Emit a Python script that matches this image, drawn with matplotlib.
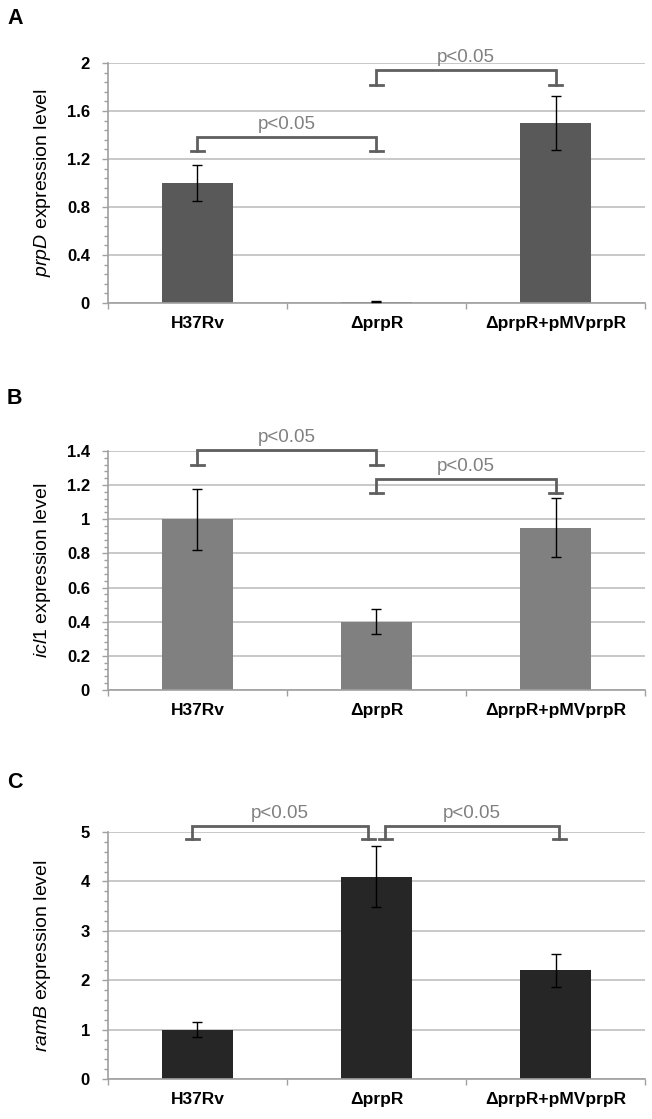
import matplotlib
matplotlib.use("Agg")
import matplotlib.pyplot as plt
from matplotlib.ticker import MultipleLocator, FuncFormatter

plt.rcParams['font.family'] = ['Liberation Sans', 'DejaVu Sans']
plt.rcParams['mathtext.fontset'] = 'custom'
plt.rcParams['mathtext.rm'] = 'Liberation Sans'
plt.rcParams['mathtext.it'] = 'Liberation Sans:italic'

strains = ["H37Rv", "\u0394prpR", "\u0394prpR+pMVprpR"]

prpD_mean = [1.0, 0.01, 1.5]
prpD_err = [0.15, 0.004, 0.225]
icl1_mean = [1.0, 0.40, 0.95]
icl1_err = [0.18, 0.072, 0.172]
ramB_mean = [1.0, 4.1, 2.2]
ramB_err = [0.15, 0.62, 0.33]

# brackets: (x start, x end, top, cap level)
prpD_brackets = [(0, 1, 1.386, 1.267), (1, 2, 1.94, 1.82)]
icl1_brackets = [(0, 1, 1.404, 1.32), (1, 2, 1.236, 1.154)]
ramB_brackets = [(-0.03, 0.955, 5.12, 4.87), (1.05, 2.02, 5.12, 4.87)]

panels = [
    ("A", "prpD", prpD_mean, prpD_err, prpD_brackets, "#595959", 2.0, 0.4, 0.08,
     [0.1656, 0.7292, 0.8237, 0.2145], 19),
    ("B", "icl1", icl1_mean, icl1_err, icl1_brackets, "#808080", 1.4, 0.2, 0.04,
     [0.1656, 0.3834, 0.8237, 0.2136], 398),
    ("C", "ramB", ramB_mean, ramB_err, ramB_brackets, "#262626", 5.0, 1.0, 0.2,
     [0.1656, 0.0357, 0.8237, 0.2207], 783),
]

fig = plt.figure(figsize=(6.52, 11.19), dpi=100)

for letter, gene, means, errs, brackets, color, ymax, major, minor, rect, ly in panels:
    ax = fig.add_axes(rect)
    x = list(range(len(strains)))
    ax.bar(x, means, width=0.4, color=color, zorder=2)
    ax.errorbar(x, means, yerr=errs, fmt='none', ecolor='black', elinewidth=1,
                capsize=3.3, capthick=1, zorder=3)

    ax.set_xlim(-0.5, 2.5)
    ax.set_ylim(0, ymax)
    ax.yaxis.set_major_locator(MultipleLocator(major))
    ax.yaxis.set_minor_locator(MultipleLocator(minor))
    ax.yaxis.set_major_formatter(FuncFormatter(lambda v, p: "%g" % round(v, 2)))
    ax.grid(axis='y', color='#bfbfbf', linewidth=1.2, zorder=0)
    ax.set_axisbelow(True)

    ax.set_xticks(x)
    ax.set_xticklabels(strains, fontweight='bold', fontsize=12.5)
    ax.set_xticks([-0.5, 0.5, 1.5, 2.5], minor=True)
    ax.tick_params(axis='x', which='major', length=0, pad=9.5)
    ax.tick_params(axis='x', which='minor', length=4, color='#a0a0a0', width=1)
    ax.tick_params(axis='y', which='major', length=4, color='#a0a0a0', width=1,
                   pad=9, labelsize=12)
    ax.tick_params(axis='y', which='minor', length=3.2, color='#a0a0a0', width=1)
    for lab in ax.get_yticklabels():
        lab.set_fontweight('bold')

    for s in ['top', 'right']:
        ax.spines[s].set_visible(False)
    for s in ['left', 'bottom']:
        ax.spines[s].set_color('#a0a0a0')
        ax.spines[s].set_linewidth(1.2)

    ax.set_ylabel(r"$\mathit{%s}$ expression level" % gene, fontsize=14)
    ax.yaxis.set_label_coords(-0.102, 0.5)

    cw = 0.036
    for x0, x1, top, cap in brackets:
        ax.plot([x0, x0, x1, x1], [cap, top, top, cap], color='#5f5f5f', lw=2,
                clip_on=False, zorder=4, solid_joinstyle='miter')
        for xc in (x0, x1):
            ax.plot([xc - cw, xc + cw], [cap, cap], color='#5f5f5f', lw=2,
                    clip_on=False, zorder=4)
        ax.annotate("p<0.05", xy=((x0 + x1) / 2, top), xytext=(0, 9),
                    textcoords='offset points', ha='center', va='center',
                    fontsize=13.5, color='#808080', annotation_clip=False)

    fig.text(7 / 652, 1 - ly / 1119, letter, fontsize=15.5, fontweight='bold',
             ha='left', va='center')

fig.savefig("out.png", dpi=100)
